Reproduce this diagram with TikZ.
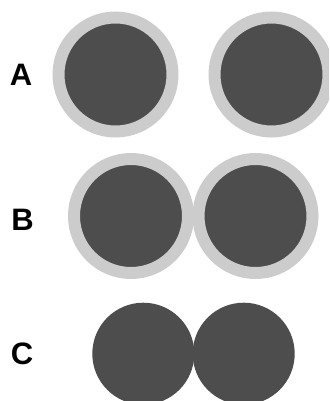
\documentclass[tikz,border=0pt]{standalone}
\usepackage{fontspec}
\setmainfont{Liberation Sans}
\usepackage{xcolor}
\usepackage{tikz}
\usetikzlibrary{positioning}
\definecolor{DiscDark}{HTML}{4D4D4D}
\definecolor{RingLight}{HTML}{CCCCCC}

\begin{document}
\begin{tikzpicture}[
	x=1pt, y=-1pt,
	node distance=30pt,
	disc/.style={circle, fill=DiscDark, inner sep=0pt, minimum size=102pt},
	ringdisc/.style={disc, minimum size=114pt, draw=RingLight, line width=12pt},
	lbl/.style={font=\bfseries\fontsize{31}{31}\selectfont, inner sep=0pt}
]
\clip (0,0) rectangle (329,401);

% A: rings apart
\node[lbl] (labA) at (21,74.5) {A};
\node[ringdisc] (a1) at (115.5,74.5) {};
\node[ringdisc, right=of a1] (a2) {};

% B: rings touching
\node[lbl] (labB) at (22.5,220) {B};
\node[ringdisc] (b1) at (131,216) {};
\node[ringdisc, right=-1.5pt of b1] (b2) {};

% C: bare discs
\node[lbl] (labC) at (22,354) {C};
\node[disc] (c1) at (143.3,353.7) {};
\node[disc, right=-2pt of c1] (c2) {};
\end{tikzpicture}
\end{document}
